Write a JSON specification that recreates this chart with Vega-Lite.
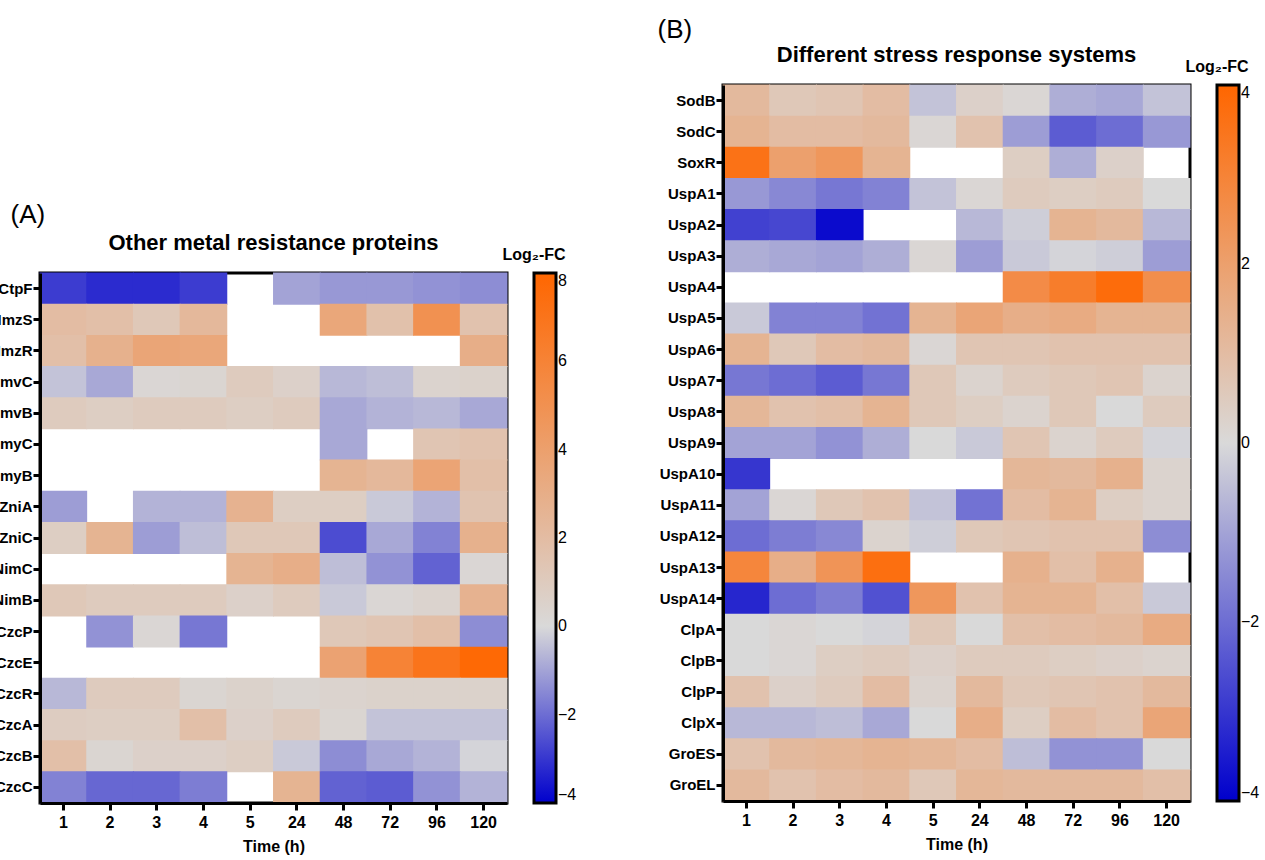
{
  "$schema": "https://vega.github.io/schema/vega-lite/v6.json",
  "padding": {"left": -13, "top": 14, "right": 0, "bottom": 0},
  "background": "white",
  "config": {
    "font": "Liberation Sans",
    "view": {"stroke": "black", "strokeWidth": 3},
    "axis": {"domainColor": "black", "domainWidth": 3, "tickColor": "black", "tickWidth": 3, "tickSize": 7, "labelFont": "Liberation Sans", "labelFontWeight": "bold", "labelColor": "black", "labelFontSize": 15, "titleFont": "Liberation Sans", "titleFontWeight": "bold", "titleColor": "black", "grid": false},
    "axisX": {"labelAngle": 0, "labelFontSize": 16, "labelPadding": 4, "titleFontSize": 16, "titlePadding": 8},
    "axisY": {"labelPadding": 1},
    "title": {"font": "Liberation Sans", "fontSize": 22, "fontWeight": "bold", "color": "black", "anchor": "middle", "frame": "group"},
    "legend": {"orient": "none", "gradientThickness": 22, "gradientStrokeColor": "black", "gradientStrokeWidth": 3, "titleFont": "Liberation Sans", "titleFontSize": 16, "titleFontWeight": "bold", "titleColor": "black", "titlePadding": 10, "titleAnchor": "start", "titleAlign": "center", "labelFont": "Liberation Sans", "labelFontSize": 16, "labelColor": "black", "labelOffset": 8, "labelOverlap": false, "labelExpr": "replace(datum.label, '−', '-')"}
  },
  "resolve": {"scale": {"color": "independent"}, "legend": {"color": "independent"}},
  "spacing": 76,
  "datasets": {
    "a": [
      {"g":"CtpF","t":"1","v":-2.9},{"g":"CtpF","t":"2","v":-3.2},{"g":"CtpF","t":"3","v":-3.2},{"g":"CtpF","t":"4","v":-2.9},{"g":"CtpF","t":"24","v":-1.0},{"g":"CtpF","t":"48","v":-1.2},{"g":"CtpF","t":"72","v":-1.2},{"g":"CtpF","t":"96","v":-1.3},{"g":"CtpF","t":"120","v":-1.4},
      {"g":"HmzS","t":"1","v":2.0},{"g":"HmzS","t":"2","v":1.8},{"g":"HmzS","t":"3","v":1.2},{"g":"HmzS","t":"4","v":2.3},{"g":"HmzS","t":"48","v":3.5},{"g":"HmzS","t":"72","v":1.7},{"g":"HmzS","t":"96","v":5.0},{"g":"HmzS","t":"120","v":1.6},
      {"g":"HmzR","t":"1","v":1.8},{"g":"HmzR","t":"2","v":2.8},{"g":"HmzR","t":"3","v":3.6},{"g":"HmzR","t":"4","v":3.5},{"g":"HmzR","t":"120","v":3.0},
      {"g":"HmvC","t":"1","v":-0.4},{"g":"HmvC","t":"2","v":-0.9},{"g":"HmvC","t":"3","v":0.2},{"g":"HmvC","t":"4","v":0.3},{"g":"HmvC","t":"5","v":1.0},{"g":"HmvC","t":"24","v":0.6},{"g":"HmvC","t":"48","v":-0.6},{"g":"HmvC","t":"72","v":-0.5},{"g":"HmvC","t":"96","v":0.4},{"g":"HmvC","t":"120","v":0.5},
      {"g":"HmvB","t":"1","v":1.0},{"g":"HmvB","t":"2","v":0.8},{"g":"HmvB","t":"3","v":1.0},{"g":"HmvB","t":"4","v":1.0},{"g":"HmvB","t":"5","v":0.8},{"g":"HmvB","t":"24","v":1.0},{"g":"HmvB","t":"48","v":-0.9},{"g":"HmvB","t":"72","v":-0.7},{"g":"HmvB","t":"96","v":-0.6},{"g":"HmvB","t":"120","v":-0.9},
      {"g":"HmyC","t":"48","v":-0.9},{"g":"HmyC","t":"96","v":1.4},{"g":"HmyC","t":"120","v":1.6},
      {"g":"HmyB","t":"48","v":2.6},{"g":"HmyB","t":"72","v":2.3},{"g":"HmyB","t":"96","v":3.7},{"g":"HmyB","t":"120","v":1.8},
      {"g":"ZniA","t":"1","v":-1.1},{"g":"ZniA","t":"3","v":-0.7},{"g":"ZniA","t":"4","v":-0.7},{"g":"ZniA","t":"5","v":2.7},{"g":"ZniA","t":"24","v":0.8},{"g":"ZniA","t":"48","v":0.8},{"g":"ZniA","t":"72","v":-0.3},{"g":"ZniA","t":"96","v":-0.7},{"g":"ZniA","t":"120","v":1.5},
      {"g":"ZniC","t":"1","v":0.8},{"g":"ZniC","t":"2","v":2.6},{"g":"ZniC","t":"3","v":-1.1},{"g":"ZniC","t":"4","v":-0.5},{"g":"ZniC","t":"5","v":1.2},{"g":"ZniC","t":"24","v":1.2},{"g":"ZniC","t":"48","v":-2.6},{"g":"ZniC","t":"72","v":-0.9},{"g":"ZniC","t":"96","v":-1.6},{"g":"ZniC","t":"120","v":2.8},
      {"g":"NimC","t":"5","v":2.6},{"g":"NimC","t":"24","v":3.0},{"g":"NimC","t":"48","v":-0.5},{"g":"NimC","t":"72","v":-1.3},{"g":"NimC","t":"96","v":-2.2},{"g":"NimC","t":"120","v":0.2},
      {"g":"NimB","t":"1","v":1.2},{"g":"NimB","t":"2","v":1.0},{"g":"NimB","t":"3","v":1.0},{"g":"NimB","t":"4","v":1.0},{"g":"NimB","t":"5","v":0.6},{"g":"NimB","t":"24","v":1.0},{"g":"NimB","t":"48","v":-0.3},{"g":"NimB","t":"72","v":0.2},{"g":"NimB","t":"96","v":0.4},{"g":"NimB","t":"120","v":2.7},
      {"g":"CzcP","t":"2","v":-1.3},{"g":"CzcP","t":"3","v":0.2},{"g":"CzcP","t":"4","v":-1.8},{"g":"CzcP","t":"48","v":1.2},{"g":"CzcP","t":"72","v":1.4},{"g":"CzcP","t":"96","v":1.8},{"g":"CzcP","t":"120","v":-1.4},
      {"g":"CzcE","t":"48","v":3.8},{"g":"CzcE","t":"72","v":6.0},{"g":"CzcE","t":"96","v":7.0},{"g":"CzcE","t":"120","v":7.8},
      {"g":"CzcR","t":"1","v":-0.6},{"g":"CzcR","t":"2","v":1.0},{"g":"CzcR","t":"3","v":1.0},{"g":"CzcR","t":"4","v":0.3},{"g":"CzcR","t":"5","v":0.5},{"g":"CzcR","t":"24","v":0.3},{"g":"CzcR","t":"48","v":0.4},{"g":"CzcR","t":"72","v":0.5},{"g":"CzcR","t":"96","v":0.5},{"g":"CzcR","t":"120","v":0.5},
      {"g":"CzcA","t":"1","v":0.9},{"g":"CzcA","t":"2","v":0.8},{"g":"CzcA","t":"3","v":0.8},{"g":"CzcA","t":"4","v":1.8},{"g":"CzcA","t":"5","v":0.6},{"g":"CzcA","t":"24","v":1.0},{"g":"CzcA","t":"48","v":0.3},{"g":"CzcA","t":"72","v":-0.4},{"g":"CzcA","t":"96","v":-0.4},{"g":"CzcA","t":"120","v":-0.4},
      {"g":"CzcB","t":"1","v":1.8},{"g":"CzcB","t":"2","v":0.3},{"g":"CzcB","t":"3","v":0.6},{"g":"CzcB","t":"4","v":0.6},{"g":"CzcB","t":"5","v":0.8},{"g":"CzcB","t":"24","v":-0.3},{"g":"CzcB","t":"48","v":-1.4},{"g":"CzcB","t":"72","v":-0.9},{"g":"CzcB","t":"96","v":-0.7},{"g":"CzcB","t":"120","v":-0.1},
      {"g":"CzcC","t":"1","v":-1.6},{"g":"CzcC","t":"2","v":-2.1},{"g":"CzcC","t":"3","v":-2.1},{"g":"CzcC","t":"4","v":-1.7},{"g":"CzcC","t":"24","v":2.6},{"g":"CzcC","t":"48","v":-2.2},{"g":"CzcC","t":"72","v":-2.3},{"g":"CzcC","t":"96","v":-1.3},{"g":"CzcC","t":"120","v":-0.7}
    ],
    "b": [
      {"g":"SodB","t":"1","v":1.1},{"g":"SodB","t":"2","v":0.6},{"g":"SodB","t":"3","v":0.7},{"g":"SodB","t":"4","v":1.0},{"g":"SodB","t":"5","v":-0.4},{"g":"SodB","t":"24","v":0.3},{"g":"SodB","t":"48","v":0.1},{"g":"SodB","t":"72","v":-0.8},{"g":"SodB","t":"96","v":-0.9},{"g":"SodB","t":"120","v":-0.4},
      {"g":"SodC","t":"1","v":1.3},{"g":"SodC","t":"2","v":1.0},{"g":"SodC","t":"3","v":1.0},{"g":"SodC","t":"4","v":1.1},{"g":"SodC","t":"5","v":0.1},{"g":"SodC","t":"24","v":0.8},{"g":"SodC","t":"48","v":-1.1},{"g":"SodC","t":"72","v":-2.3},{"g":"SodC","t":"96","v":-2.0},{"g":"SodC","t":"120","v":-1.2},
      {"g":"SoxR","t":"1","v":3.6},{"g":"SoxR","t":"2","v":2.0},{"g":"SoxR","t":"3","v":2.3},{"g":"SoxR","t":"4","v":1.3},{"g":"SoxR","t":"48","v":0.4},{"g":"SoxR","t":"72","v":-0.8},{"g":"SoxR","t":"96","v":0.3},
      {"g":"UspA1","t":"1","v":-1.2},{"g":"UspA1","t":"2","v":-1.5},{"g":"UspA1","t":"3","v":-1.8},{"g":"UspA1","t":"4","v":-1.6},{"g":"UspA1","t":"5","v":-0.4},{"g":"UspA1","t":"24","v":0.1},{"g":"UspA1","t":"48","v":0.5},{"g":"UspA1","t":"72","v":0.4},{"g":"UspA1","t":"96","v":0.5},{"g":"UspA1","t":"120","v":0.0},
      {"g":"UspA2","t":"1","v":-2.8},{"g":"UspA2","t":"2","v":-2.7},{"g":"UspA2","t":"3","v":-3.8},{"g":"UspA2","t":"24","v":-0.6},{"g":"UspA2","t":"48","v":-0.2},{"g":"UspA2","t":"72","v":1.3},{"g":"UspA2","t":"96","v":1.1},{"g":"UspA2","t":"120","v":-0.6},
      {"g":"UspA3","t":"1","v":-0.8},{"g":"UspA3","t":"2","v":-0.9},{"g":"UspA3","t":"3","v":-1.0},{"g":"UspA3","t":"4","v":-0.8},{"g":"UspA3","t":"5","v":0.1},{"g":"UspA3","t":"24","v":-1.1},{"g":"UspA3","t":"48","v":-0.3},{"g":"UspA3","t":"72","v":-0.1},{"g":"UspA3","t":"96","v":-0.2},{"g":"UspA3","t":"120","v":-1.1},
      {"g":"UspA4","t":"48","v":2.7},{"g":"UspA4","t":"72","v":3.2},{"g":"UspA4","t":"96","v":3.8},{"g":"UspA4","t":"120","v":2.6},
      {"g":"UspA5","t":"1","v":-0.3},{"g":"UspA5","t":"2","v":-1.6},{"g":"UspA5","t":"3","v":-1.6},{"g":"UspA5","t":"4","v":-1.9},{"g":"UspA5","t":"5","v":1.3},{"g":"UspA5","t":"24","v":1.8},{"g":"UspA5","t":"48","v":1.5},{"g":"UspA5","t":"72","v":1.6},{"g":"UspA5","t":"96","v":1.3},{"g":"UspA5","t":"120","v":1.3},
      {"g":"UspA6","t":"1","v":1.3},{"g":"UspA6","t":"2","v":0.6},{"g":"UspA6","t":"3","v":1.0},{"g":"UspA6","t":"4","v":1.1},{"g":"UspA6","t":"5","v":0.1},{"g":"UspA6","t":"24","v":0.7},{"g":"UspA6","t":"48","v":0.7},{"g":"UspA6","t":"72","v":0.8},{"g":"UspA6","t":"96","v":0.8},{"g":"UspA6","t":"120","v":0.8},
      {"g":"UspA7","t":"1","v":-1.8},{"g":"UspA7","t":"2","v":-2.0},{"g":"UspA7","t":"3","v":-2.3},{"g":"UspA7","t":"4","v":-1.8},{"g":"UspA7","t":"5","v":0.6},{"g":"UspA7","t":"24","v":0.2},{"g":"UspA7","t":"48","v":0.5},{"g":"UspA7","t":"72","v":0.6},{"g":"UspA7","t":"96","v":0.7},{"g":"UspA7","t":"120","v":0.2},
      {"g":"UspA8","t":"1","v":1.2},{"g":"UspA8","t":"2","v":0.8},{"g":"UspA8","t":"3","v":0.9},{"g":"UspA8","t":"4","v":1.3},{"g":"UspA8","t":"5","v":0.6},{"g":"UspA8","t":"24","v":0.4},{"g":"UspA8","t":"48","v":0.2},{"g":"UspA8","t":"72","v":0.6},{"g":"UspA8","t":"96","v":0.0},{"g":"UspA8","t":"120","v":0.5},
      {"g":"UspA9","t":"1","v":-1.0},{"g":"UspA9","t":"2","v":-1.0},{"g":"UspA9","t":"3","v":-1.3},{"g":"UspA9","t":"4","v":-0.8},{"g":"UspA9","t":"5","v":0.0},{"g":"UspA9","t":"24","v":-0.3},{"g":"UspA9","t":"48","v":0.7},{"g":"UspA9","t":"72","v":0.2},{"g":"UspA9","t":"96","v":0.5},{"g":"UspA9","t":"120","v":-0.1},
      {"g":"UspA10","t":"1","v":-3.0},{"g":"UspA10","t":"48","v":1.2},{"g":"UspA10","t":"72","v":1.1},{"g":"UspA10","t":"96","v":1.4},{"g":"UspA10","t":"120","v":0.2},
      {"g":"UspA11","t":"1","v":-1.0},{"g":"UspA11","t":"2","v":0.1},{"g":"UspA11","t":"3","v":0.6},{"g":"UspA11","t":"4","v":0.8},{"g":"UspA11","t":"5","v":-0.4},{"g":"UspA11","t":"24","v":-1.9},{"g":"UspA11","t":"48","v":1.0},{"g":"UspA11","t":"72","v":1.3},{"g":"UspA11","t":"96","v":0.4},{"g":"UspA11","t":"120","v":0.2},
      {"g":"UspA12","t":"1","v":-2.0},{"g":"UspA12","t":"2","v":-1.7},{"g":"UspA12","t":"3","v":-1.5},{"g":"UspA12","t":"4","v":0.2},{"g":"UspA12","t":"5","v":-0.2},{"g":"UspA12","t":"24","v":0.6},{"g":"UspA12","t":"48","v":0.7},{"g":"UspA12","t":"72","v":0.8},{"g":"UspA12","t":"96","v":0.8},{"g":"UspA12","t":"120","v":-1.4},
      {"g":"UspA13","t":"1","v":2.9},{"g":"UspA13","t":"2","v":1.5},{"g":"UspA13","t":"3","v":2.4},{"g":"UspA13","t":"4","v":3.7},{"g":"UspA13","t":"48","v":1.4},{"g":"UspA13","t":"72","v":0.9},{"g":"UspA13","t":"96","v":1.4},
      {"g":"UspA14","t":"1","v":-3.3},{"g":"UspA14","t":"2","v":-2.0},{"g":"UspA14","t":"3","v":-1.7},{"g":"UspA14","t":"4","v":-2.5},{"g":"UspA14","t":"5","v":2.3},{"g":"UspA14","t":"24","v":0.8},{"g":"UspA14","t":"48","v":1.3},{"g":"UspA14","t":"72","v":1.3},{"g":"UspA14","t":"96","v":0.9},{"g":"UspA14","t":"120","v":-0.3},
      {"g":"ClpA","t":"1","v":0.0},{"g":"ClpA","t":"2","v":0.1},{"g":"ClpA","t":"3","v":0.0},{"g":"ClpA","t":"4","v":-0.1},{"g":"ClpA","t":"5","v":0.6},{"g":"ClpA","t":"24","v":0.0},{"g":"ClpA","t":"48","v":0.9},{"g":"ClpA","t":"72","v":1.0},{"g":"ClpA","t":"96","v":1.1},{"g":"ClpA","t":"120","v":1.6},
      {"g":"ClpB","t":"1","v":0.0},{"g":"ClpB","t":"2","v":0.1},{"g":"ClpB","t":"3","v":0.4},{"g":"ClpB","t":"4","v":0.5},{"g":"ClpB","t":"5","v":0.3},{"g":"ClpB","t":"24","v":0.5},{"g":"ClpB","t":"48","v":0.5},{"g":"ClpB","t":"72","v":0.4},{"g":"ClpB","t":"96","v":0.3},{"g":"ClpB","t":"120","v":0.2},
      {"g":"ClpP","t":"1","v":0.8},{"g":"ClpP","t":"2","v":0.3},{"g":"ClpP","t":"3","v":0.5},{"g":"ClpP","t":"4","v":1.0},{"g":"ClpP","t":"5","v":0.2},{"g":"ClpP","t":"24","v":1.1},{"g":"ClpP","t":"48","v":0.6},{"g":"ClpP","t":"72","v":0.7},{"g":"ClpP","t":"96","v":0.8},{"g":"ClpP","t":"120","v":1.1},
      {"g":"ClpX","t":"1","v":-0.6},{"g":"ClpX","t":"2","v":-0.6},{"g":"ClpX","t":"3","v":-0.5},{"g":"ClpX","t":"4","v":-0.9},{"g":"ClpX","t":"5","v":0.0},{"g":"ClpX","t":"24","v":1.5},{"g":"ClpX","t":"48","v":0.4},{"g":"ClpX","t":"72","v":1.0},{"g":"ClpX","t":"96","v":0.8},{"g":"ClpX","t":"120","v":1.8},
      {"g":"GroES","t":"1","v":0.8},{"g":"GroES","t":"2","v":1.1},{"g":"GroES","t":"3","v":1.2},{"g":"GroES","t":"4","v":1.3},{"g":"GroES","t":"5","v":1.2},{"g":"GroES","t":"24","v":1.0},{"g":"GroES","t":"48","v":-0.5},{"g":"GroES","t":"72","v":-1.3},{"g":"GroES","t":"96","v":-1.3},{"g":"GroES","t":"120","v":0.0},
      {"g":"GroEL","t":"1","v":1.1},{"g":"GroEL","t":"2","v":0.8},{"g":"GroEL","t":"3","v":1.0},{"g":"GroEL","t":"4","v":1.1},{"g":"GroEL","t":"5","v":0.6},{"g":"GroEL","t":"24","v":1.2},{"g":"GroEL","t":"48","v":1.1},{"g":"GroEL","t":"72","v":1.1},{"g":"GroEL","t":"96","v":1.1},{"g":"GroEL","t":"120","v":0.9}
    ]
  },
  "hconcat": [
    {
      "spacing": 0,
      "resolve": {"scale": {"color": "independent"}, "legend": {"color": "independent"}},
      "vconcat": [
        {
          "width": 10,
          "height": 114,
          "view": {"stroke": null},
          "data": {"values": [{}]},
          "mark": {"type": "text", "text": ""},
          "encoding": {}
        },
        {
          "width": 467,
          "height": 530,
          "title": {"text": "Other metal resistance proteins", "offset": -54},
          "data": {"name": "a"},
          "mark": {"type": "rect", "width": {"band": 1.02}, "height": {"band": 1.03}},
          "encoding": {
            "x": {"field": "t", "type": "ordinal", "title": "Time (h)", "scale": {"domain": ["1","2","3","4","5","24","48","72","96","120"], "paddingInner": 0, "paddingOuter": 0}},
            "y": {"field": "g", "type": "nominal", "scale": {"domain": ["CtpF","HmzS","HmzR","HmvC","HmvB","HmyC","HmyB","ZniA","ZniC","NimC","NimB","CzcP","CzcE","CzcR","CzcA","CzcB","CzcC"], "paddingInner": 0, "paddingOuter": 0},
                  "axis": {"title": "(A)", "titleAngle": 0, "titleAlign": "left", "titleBaseline": "top", "titleX": -30, "titleY": -72, "titleFontSize": 26, "titleFontWeight": "normal"}},
            "color": {"field": "v", "type": "quantitative", "scale": {"domain": [-4, 0, 8], "range": ["#0000cc", "#d9d9d9", "#ff6600"], "interpolate": "rgb"},
                      "legend": {"type": "gradient", "title": "Log₂-FC", "format": "d", "values": [-4, -2, 0, 2, 4, 6, 8], "gradientLength": 530, "legendX": 462, "legendY": -26}}
          }
        }
      ]
    },
    {
      "width": 467,
      "height": 716,
      "title": {"text": "Different stress response systems", "offset": -51},
      "data": {"name": "b"},
      "mark": {"type": "rect", "width": {"band": 1.02}, "height": {"band": 1.03}},
      "encoding": {
        "x": {"field": "t", "type": "ordinal", "title": "Time (h)", "scale": {"domain": ["1","2","3","4","5","24","48","72","96","120"], "paddingInner": 0, "paddingOuter": 0}},
        "y": {"field": "g", "type": "nominal", "scale": {"domain": ["SodB","SodC","SoxR","UspA1","UspA2","UspA3","UspA4","UspA5","UspA6","UspA7","UspA8","UspA9","UspA10","UspA11","UspA12","UspA13","UspA14","ClpA","ClpB","ClpP","ClpX","GroES","GroEL"], "paddingInner": 0, "paddingOuter": 0},
              "axis": {"title": "(B)", "titleAngle": 0, "titleAlign": "left", "titleBaseline": "top", "titleX": -66, "titleY": -69, "titleFontSize": 26, "titleFontWeight": "normal"}},
        "color": {"field": "v", "type": "quantitative", "scale": {"domain": [-4, 0, 4], "range": ["#0000cc", "#d9d9d9", "#ff6600"], "interpolate": "rgb"},
                  "legend": {"type": "gradient", "title": "Log₂-FC", "format": "d", "values": [-4, -2, 0, 2, 4], "gradientLength": 716, "legendX": 462, "legendY": -26}}
      }
    }
  ]
}
